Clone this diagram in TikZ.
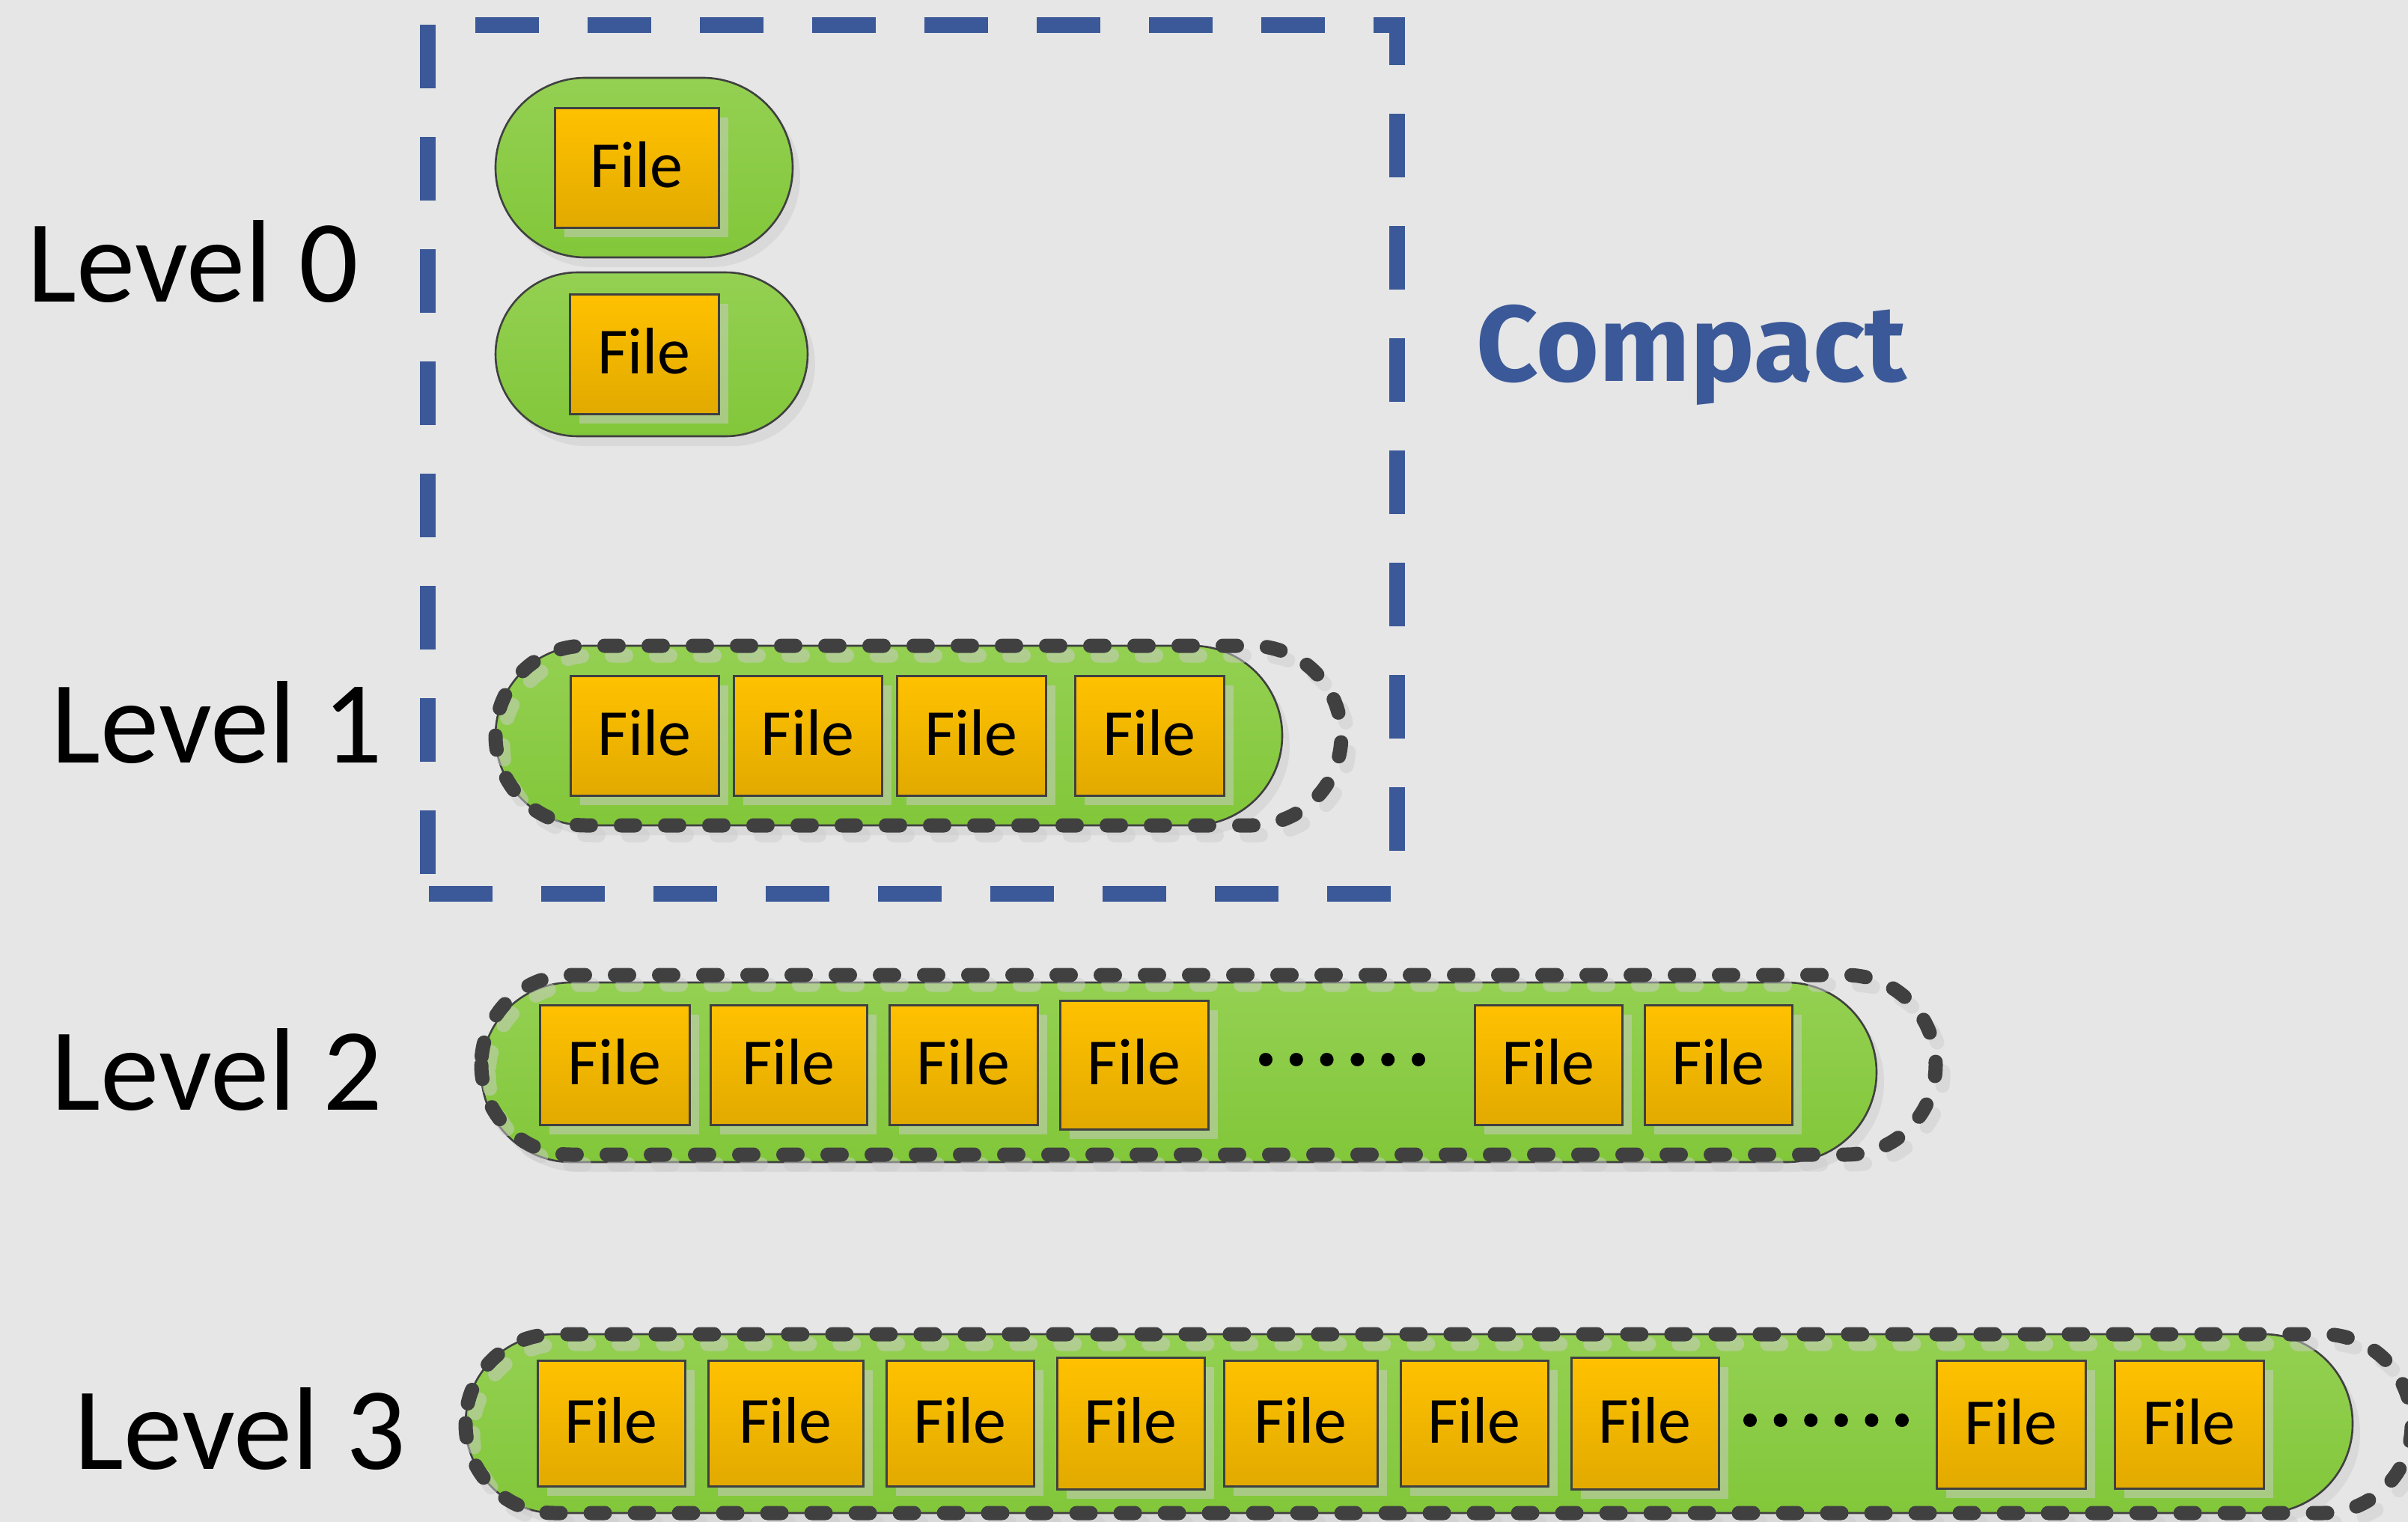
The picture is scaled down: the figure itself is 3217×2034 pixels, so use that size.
\documentclass[tikz,border=0pt]{standalone}
\usepackage{fontspec}
\setmainfont{Carlito}
\newfontfamily\firafont{Fira Sans}
\definecolor{bgc}{RGB}{230,230,230}
\definecolor{bluec}{RGB}{59,89,152}
\definecolor{edgec}{RGB}{64,64,64}
\definecolor{greentop}{RGB}{148,208,82}
\definecolor{greenbot}{RGB}{130,199,58}
\definecolor{orangetop}{RGB}{255,193,0}
\definecolor{orangebot}{RGB}{226,170,0}
\definecolor{shadowc}{RGB}{205,205,205}
\tikzset{
  pill/.style={draw=edgec,line width=0.65pt,top color=greentop,bottom color=greenbot,inner sep=0pt,outer sep=0pt},
  filestyle/.style={draw=edgec,line width=0.75pt,top color=orangetop,bottom color=orangebot,inner sep=0pt,outer sep=0pt,
    text depth=2pt,font=\fontsize{22pt}{26pt}\selectfont},
  shadowfill/.style={fill=shadowc,opacity=0.5},
  dashring/.style={draw=edgec,line width=4.75pt,line cap=round,dash pattern=on 4.75pt off 10pt},
  dashshadow/.style={draw=shadowc,opacity=0.5,line width=4.75pt,line cap=round,dash pattern=on 4.75pt off 10pt},
  lvl/.style={anchor=base west,inner sep=0pt,font=\fontsize{39.25pt}{46pt}\selectfont},
  bluedash/.style={draw=bluec,line width=5.25pt,line join=miter,line cap=butt},
}
\newcommand\filenode[5]{%
  \fill[shadowfill] ({#2+13},{#3+13}) rectangle ({#4+13},{#5+13});
  \node[filestyle,minimum width={(#4-#2)*0.25pt},minimum height={(#5-#3)*0.25pt}] (#1) at ({(#2+#4)/2},{(#3+#5)/2}) {File};
}
\newcommand\pillnode[6]{%
  \fill[shadowfill,rounded corners=#2] ({#3+10},{#4+13}) rectangle ({#5+10},{#6+13});
  \node[pill,rounded corners=#2,minimum width={(#5-#3)*0.25pt},minimum height={(#6-#4)*0.25pt}] (#1) at ({(#3+#5)/2},{(#4+#6)/2}) {};
}
\newcommand\dashring[5]{%
  \draw[dashshadow,rounded corners=#5] ({#1+10},{#2+13}) rectangle ({#3+10},{#4+13});
  \draw[dashring,rounded corners=#5] (#1,#2) rectangle (#3,#4);
}
\begin{document}
\begin{tikzpicture}[x=0.25pt,y=-0.25pt]
\useasboundingbox (0,0) rectangle (3217,2034);
\fill[bgc] (0,0) rectangle (3217,2034);

% blue dashed frame
\draw[bluedash,dash pattern=on 21.25pt off 16.25pt,dash phase=21.5pt] (571,33) -- (1866,33) -- (1866,1194) -- (571,1194);
\draw[bluedash,dash pattern=on 21.25pt off 16.25pt,dash phase=31pt] (571,1194) -- (571,33);

% labels
\node[lvl] (lv0) at (36,403) {Level 0};
\node[lvl] (lv1) at (68,1019) {Level 1};
\node[lvl] (lv2) at (68,1483) {Level 2};
\node[lvl] (lv3) at (99,1963) {Level 3};
\node[anchor=base west,inner sep=0pt,text=bluec,font=\firafont\bfseries\fontsize{36pt}{42pt}\selectfont] (cmp) at (1972,509) {Compact};

% level 0
\pillnode{p0a}{30pt}{662}{104}{1059}{344}
\filenode{f0a}{741}{144}{960}{304}
\pillnode{p0b}{27.4pt}{662}{364}{1079}{583}
\filenode{f0b}{761}{393}{960}{553}

% level 1
\pillnode{p1}{30pt}{662}{863}{1713}{1103}
\filenode{f1a}{762}{903}{960}{1063}
\filenode{f1b}{980}{903}{1178}{1063}
\filenode{f1c}{1198}{903}{1397}{1063}
\filenode{f1d}{1436}{903}{1635}{1063}
\dashring{662}{863}{1792}{1103}{30pt}

% level 2
\pillnode{p2}{30pt}{643}{1313}{2507}{1553}
\filenode{f2a}{721}{1343}{921}{1503}
\filenode{f2b}{949}{1343}{1158}{1503}
\filenode{f2c}{1188}{1343}{1386}{1503}
\filenode{f2d}{1416}{1337}{1614}{1509}
\filenode{f2e}{1970}{1343}{2167}{1503}
\filenode{f2f}{2197}{1343}{2394}{1503}
\foreach \i in {0,...,5} \fill (1691+\i*40.8,1416) circle (9);
\dashring{643}{1303}{2586}{1543}{30pt}

% level 3
\pillnode{p3}{29.75pt}{622}{1783}{3143}{2022}
\filenode{f3a}{718}{1818}{915}{1986}
\filenode{f3b}{946}{1818}{1153}{1986}
\filenode{f3c}{1184}{1818}{1381}{1986}
\filenode{f3d}{1412}{1814}{1609}{1990}
\filenode{f3e}{1635}{1818}{1840}{1986}
\filenode{f3f}{1871}{1818}{2068}{1986}
\filenode{f3g}{2099}{1814}{2296}{1990}
\filenode{f3h}{2587}{1818}{2786}{1989}
\filenode{f3i}{2825}{1818}{3024}{1989}
\foreach \i in {0,...,5} \fill (2338+\i*40.6,1898) circle (9);
\dashring{622}{1783}{3222}{2022}{29.75pt}
\end{tikzpicture}
\end{document}
